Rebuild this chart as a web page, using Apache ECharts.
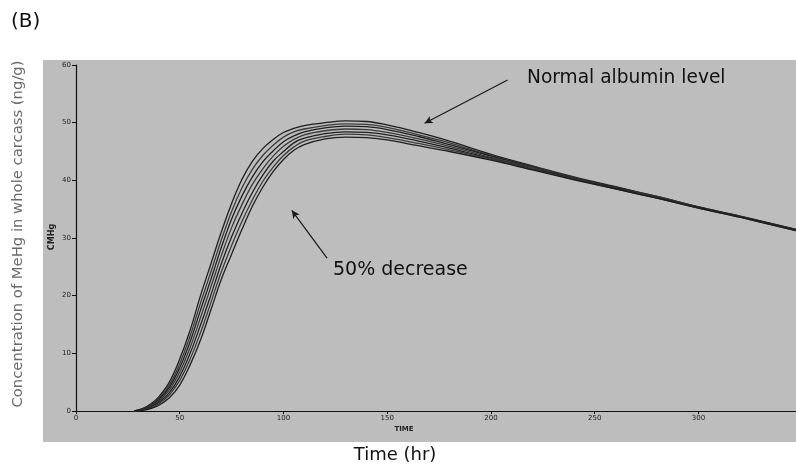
<!DOCTYPE html>
<html>
<head>
<meta charset="utf-8">
<script src="https://cdn.jsdelivr.net/npm/echarts@6/dist/echarts.min.js"></script>
<style>html,body{margin:0;padding:0;background:#fff;}#c{width:796px;height:470px;}</style>
</head>
<body>
<div id="c"></div>
<script>
// Time (hr)
const times = [28, 32, 36, 40, 45, 50, 55, 60, 65, 70, 75, 80, 85, 90, 95, 100, 105, 110, 120, 130, 140, 150, 165, 180, 200, 220, 240, 260, 280, 300, 320, 347];
// Concentration curves, from normal albumin level (A) to 50% decrease (G)
const curveA = [0, 0.4, 1.2, 2.5, 5, 9, 14, 20, 25.5, 31, 36, 40.2, 43.3, 45.5, 47.1, 48.3, 49, 49.5, 50, 50.3, 50.2, 49.6, 48.3, 46.8, 44.5, 42.5, 40.6, 38.9, 37.2, 35.4, 33.8, 31.5];
const curveB = [0, 0.35, 1.05, 2.25, 4.5, 8.2, 13, 18.7, 24.1, 29.6, 34.6, 38.7, 41.9, 44.3, 46.1, 47.5, 48.4, 48.9, 49.5, 49.8, 49.7, 49.2, 47.9, 46.5, 44.3, 42.4, 40.5, 38.8, 37.2, 35.4, 33.8, 31.5];
const curveC = [0, 0.3, 0.95, 2, 4.1, 7.5, 12, 17.5, 22.8, 28.3, 33.3, 37.3, 40.6, 43.2, 45.1, 46.7, 47.7, 48.4, 49.1, 49.4, 49.3, 48.8, 47.6, 46.2, 44.2, 42.3, 40.4, 38.8, 37.1, 35.3, 33.7, 31.4];
const curveD = [0, 0.25, 0.8, 1.75, 3.65, 6.75, 11, 16.2, 21.5, 26.9, 31.8, 35.8, 39.3, 42, 44.2, 45.9, 47.1, 47.9, 48.6, 48.9, 48.8, 48.3, 47.2, 45.9, 44, 42.2, 40.4, 38.7, 37.1, 35.3, 33.7, 31.4];
const curveE = [0, 0.2, 0.65, 1.5, 3.2, 6, 10, 14.9, 20.1, 25.5, 30.2, 34.3, 37.9, 40.9, 43.3, 45, 46.5, 47.3, 48.1, 48.4, 48.3, 47.9, 46.8, 45.6, 43.8, 42, 40.3, 38.6, 37, 35.3, 33.7, 31.4];
const curveF = [0, 0.15, 0.55, 1.25, 2.8, 5.3, 9, 13.6, 18.8, 24.1, 28.7, 32.9, 36.6, 39.8, 42.3, 44.3, 45.8, 46.8, 47.6, 48, 47.9, 47.4, 46.4, 45.3, 43.7, 41.9, 40.2, 38.5, 36.9, 35.2, 33.6, 31.3];
const curveG = [0, 0.1, 0.4, 1, 2.3, 4.5, 8, 12.3, 17.5, 22.8, 27.2, 31.5, 35.5, 38.8, 41.5, 43.6, 45.2, 46.2, 47.2, 47.5, 47.4, 47, 46, 45, 43.5, 41.8, 40.1, 38.5, 36.9, 35.2, 33.6, 31.3];
const curves = [curveA, curveB, curveC, curveD, curveE, curveF, curveG];
// Tick labels
const xTicks = [0, 50, 100, 150, 200, 250, 300];
const yTicks = [0, 10, 20, 30, 40, 50, 60];

const chart = echarts.init(document.getElementById('c'), null, {renderer: 'canvas'});

const series = curves.map(function (c, i) {
  const s = {
    type: 'line',
    data: times.map(function (t, j) { return [t, c[j]]; }),
    smooth: 0.4,
    showSymbol: false,
    lineStyle: {color: i % 2 ? '#3a3a3a' : '#1e1e1e', width: 1.3},
    z: 3,
    silent: true
  };
  if (i === 0) {
    s.markLine = {
      silent: true,
      symbol: ['none', 'arrow'],
      symbolSize: [6, 8],
      label: {show: false},
      lineStyle: {color: '#1a1a1a', width: 1.2, type: 'solid'},
      data: [
        [{coord: [208, 57.4]}, {coord: [168, 49.9]}],
        [{coord: [121, 26.5]}, {coord: [104, 34.8]}]
      ]
    };
  }
  return s;
});

chart.setOption({
  animation: false,
  backgroundColor: '#ffffff',
  grid: {left: 76, right: 0, top: 65, bottom: 59, containLabel: false},
  xAxis: {
    type: 'value', min: 0, max: 347, interval: 50,
    axisLine: {lineStyle: {color: '#111', width: 1.2}},
    axisTick: {show: true, length: 3, inside: false, customValues: xTicks, lineStyle: {color: '#111'}},
    axisLabel: {customValues: xTicks, fontSize: 7, color: '#222', margin: 4, fontFamily: 'DejaVu Sans'},
    splitLine: {show: false}
  },
  yAxis: {
    type: 'value', min: 0, max: 60, interval: 10,
    axisLine: {show: true, lineStyle: {color: '#111', width: 1.2}},
    axisTick: {show: true, length: 4, lineStyle: {color: '#111'}},
    axisLabel: {fontSize: 7, color: '#222', margin: 5, fontFamily: 'DejaVu Sans'},
    splitLine: {show: false}
  },
  graphic: [
    {type: 'rect', shape: {x: 43, y: 60, width: 753, height: 382}, style: {fill: '#bdbdbd'}, z: -10, silent: true},
    {type: 'text', left: 11, top: 12, style: {text: '(B)', font: '20px "DejaVu Sans"', fill: '#111'}},
    {type: 'text', x: 18, y: 234, rotation: Math.PI / 2, style: {text: 'Concentration of MeHg in whole carcass (ng/g)', font: '14.8px "DejaVu Sans"', fill: '#6a6a6a', align: 'center', verticalAlign: 'middle'}},
    {type: 'text', x: 52, y: 237, rotation: Math.PI / 2, style: {text: 'CMHg', font: 'bold 8px "DejaVu Sans"', fill: '#222', align: 'center', verticalAlign: 'middle'}, z: 5},
    {type: 'text', x: 404, y: 429, style: {text: 'TIME', font: 'bold 7px "DejaVu Sans"', fill: '#222', align: 'center', verticalAlign: 'middle'}, z: 5},
    {type: 'text', x: 395, y: 455, style: {text: 'Time (hr)', font: '18px "DejaVu Sans"', fill: '#111', align: 'center', verticalAlign: 'middle'}},
    {type: 'text', x: 527, y: 78, style: {text: 'Normal albumin level', font: '18.6px "DejaVu Sans"', fill: '#111', align: 'left', verticalAlign: 'middle'}, z: 5},
    {type: 'text', x: 333, y: 270, style: {text: '50% decrease', font: '19px "DejaVu Sans"', fill: '#111', align: 'left', verticalAlign: 'middle'}, z: 5}
  ],
  series: series
});
</script>
</body>
</html>
